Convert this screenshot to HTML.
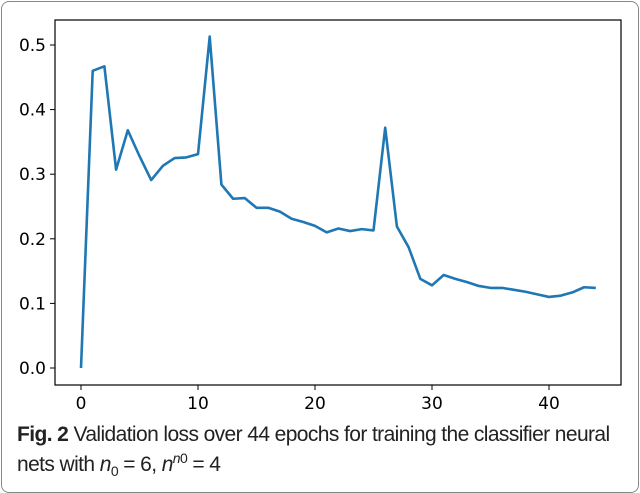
<!DOCTYPE html>
<html><head><meta charset="utf-8"><style>
body{margin:0;width:640px;height:479px;background:#fff;overflow:hidden;font-family:"DejaVu Sans",sans-serif}
#frame{position:absolute;left:1px;top:1px;width:636px;height:490px;border:1px solid #888;border-radius:8px}
#cap{position:absolute;left:17px;top:420px;font-family:"Liberation Sans Narrow","Liberation Sans",sans-serif;font-size:21px;line-height:30px;color:#222;letter-spacing:-0.6px;transform:scaleX(1.0);transform-origin:left top;white-space:nowrap}
sub,sup{line-height:0;font-size:14px}
</style></head><body>
<div id="frame"></div>
<svg id="chart" width="640" height="420" style="position:absolute;left:0;top:0"></svg>
<div id="cap"><b>Fig. 2</b> Validation loss over 44 epochs for training the classifier neural<br>nets with <i>n</i><sub>0</sub> = 6, <i>n</i><sup><i>n</i>0</sup> = 4</div>
<script>
const epochs=[0,1,2,3,4,5,6,7,8,9,10,11,12,13,14,15,16,17,18,19,20,21,22,23,24,25,26,27,28,29,30,31,32,33,34,35,36,37,38,39,40,41,42,43,44];
const loss=[0,0.46,0.467,0.307,0.368,0.328,0.291,0.313,0.325,0.326,0.331,0.513,0.284,0.262,0.263,0.248,0.248,0.242,0.231,0.226,0.22,0.21,0.216,0.212,0.215,0.213,0.372,0.219,0.187,0.138,0.128,0.144,0.138,0.133,0.127,0.124,0.124,0.121,0.118,0.114,0.11,0.112,0.117,0.125,0.124];
const xTicks=[0,10,20,30,40];
const yTicks=[0.0,0.1,0.2,0.3,0.4,0.5];
const svg=document.getElementById('chart'),NS='http://www.w3.org/2000/svg';
const L=55,R=621,T=20,B=385;
const xs=v=>81+v*11.7, ys=v=>368-v*646;
function mk(t,a,p){const e=document.createElementNS(NS,t);for(const k in a)e.setAttribute(k,a[k]);(p||svg).appendChild(e);return e;}
const box=mk('rect',{x:L,y:T,width:R-L,height:B-T,fill:'none',stroke:'#000','stroke-width':1.2});


xTicks.forEach(v=>{const x=xs(v);
 const l=mk('line',{x1:x,x2:x,y1:B,y2:B+5,stroke:'#000'});
 
 
 const t=mk('text',{x:x,y:B+24,'text-anchor':'middle','font-size':17,fill:'#000'});t.textContent=v;
 
 });
yTicks.forEach(v=>{const y=ys(v);
 const l=mk('line',{x1:L-5,x2:L,y1:y,y2:y,stroke:'#000'});
 
 
 const t=mk('text',{x:L-9,y:y+6,'text-anchor':'end','font-size':17,fill:'#000'});t.textContent=v.toFixed(1);
 
 });
const line=mk('polyline',{points:epochs.map((e,i)=>xs(e)+','+ys(loss[i])).join(' '),fill:'none',stroke:'#1f77b4','stroke-width':2.6,'stroke-linejoin':'round'});


</script>
</body></html>
